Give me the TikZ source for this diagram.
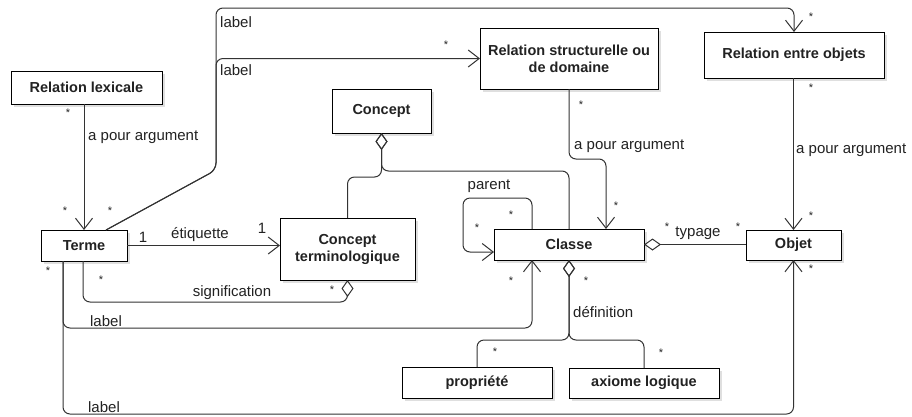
\documentclass[tikz,border=0pt]{standalone}
\usepackage{fontspec}
\setmainfont{Liberation Sans}
\usetikzlibrary{arrows.meta,shadows}
\definecolor{ln}{HTML}{333333}
\definecolor{tx}{HTML}{222222}
\begin{document}
\begin{tikzpicture}[x=1pt,y=-1pt,
  box/.style={draw=black, fill=white, line width=1pt, inner sep=0pt, outer sep=0pt, align=center,
    font=\fontsize{14.5}{17}\bfseries\selectfont, text=tx,
    drop shadow={shadow xshift=3pt,shadow yshift=-3pt,opacity=0.25}},
  conn/.style={draw=ln, line width=1pt, rounded corners=7pt},
  nav/.style={conn, -{Straight Barb[length=11pt,width=17pt,line width=1pt]}},
  agg/.style={conn, {Diamond[open,length=17pt,width=12pt,line width=1pt]}-},
  lbl/.style={font=\fontsize{15}{17}\selectfont, text=tx, inner sep=0pt},
  star/.style={font=\fontsize{11}{11}\selectfont, text=tx, inner sep=0pt, yshift=-2pt}]
\useasboundingbox[fill=white] (0,0) rectangle (912,416);

% boxes
\node[box, minimum width=151pt, minimum height=33pt] (rlex) at (86.5,87.5) {Relation lexicale};
\node[box, minimum width=86pt, minimum height=31pt] (terme) at (84,245.5) {Terme};
\node[box, minimum width=135pt, minimum height=62pt] (ct) at (347.5,249) {Concept\\terminologique};
\node[box, minimum width=99pt, minimum height=44pt] (concept) at (381.5,111) {Concept};
\node[box, minimum width=178pt, minimum height=61pt] (rs) at (569,58.5) {Relation structurelle ou\\de domaine};
\node[box, minimum width=180pt, minimum height=46pt] (reo) at (794,55) {Relation entre objets};
\node[box, minimum width=150pt, minimum height=31pt] (classe) at (569,244.5) {Classe};
\node[box, minimum width=95pt, minimum height=30pt] (objet) at (793.5,245) {Objet};
\node[box, minimum width=150pt, minimum height=31pt] (prop) at (477,382.5) {propriété};
\node[box, minimum width=150pt, minimum height=30pt] (axiome) at (644,383) {axiome logique};

% connectors
\draw[nav] (rlex.south -| terme.north) -- (terme.north);
\coordinate (tk) at (216,170);
\draw[nav] ([xshift=22pt]terme.north) -- (tk) -- (216,8) -| (reo.north);
\draw[nav] ([xshift=22pt]terme.north) -- (tk) -- (tk |- rs.west) -- (rs.west);
\draw[nav] (terme.east) -- (terme.east -| ct.west);
\draw[agg] (concept.south) -- ++(0,44) -| (ct.north);
\draw[agg] (concept.south) -- ++(0,38) -| (classe.north);
\draw[nav] ([xshift=-37pt]classe.north) |- (463,198) |- ([yshift=-7.5pt]classe.west);
\draw[nav] (rs.south) |- ([xshift=37pt,yshift=70pt]classe.north) -- ([xshift=37pt]classe.north);
\draw[nav] (reo.south -| objet.north) -- (objet.north);
\draw[agg] (classe.east) -- (classe.east -| objet.west);
\draw[agg] (ct.south) |- ([xshift=-1pt,yshift=-41pt]terme.south) -- ([xshift=-1pt]terme.south);
\draw[nav] ([xshift=-21pt]terme.south) |- ([xshift=-37pt,yshift=-68pt]classe.south) -- ([xshift=-37pt]classe.south);
\draw[nav] ([xshift=-21pt]terme.south) |- ([yshift=-154pt]objet.south) -- (objet.south);
\draw[agg] (classe.south) -- ++(0,80) -| (prop.north);
\draw[agg] (classe.south) -- ++(0,80) -| (axiome.north);

% labels
\node[lbl, anchor=west] (l1) at (88,137) {a pour argument};
\node[lbl, anchor=west] (l2) at (220,22) {label};
\node[lbl, anchor=west] (l3) at (220,70) {label};
\node[lbl, anchor=west] (l4) at (574,146) {a pour argument};
\node[lbl, anchor=west] (l5) at (796,150) {a pour argument};
\node[lbl] (l6) at (200,235) {étiquette};
\node[lbl] (l7) at (143,237) {1};
\node[lbl] (l8) at (262,228) {1};
\node[lbl] (l9) at (489,186) {parent};
\node[lbl] (l10) at (698,233) {typage};
\node[lbl] (l11) at (232,293) {signification};
\node[lbl] (l12) at (106,321) {label};
\node[lbl] (l13) at (104,407) {label};
\node[lbl, anchor=west] (l14) at (573,312) {définition};

% multiplicities
\node[star] (s1) at (68,111) {*};
\node[star] (s2) at (65,209) {*};
\node[star] (s3) at (110,209) {*};
\node[star] (s4) at (446,43) {*};
\node[star] (s5) at (811,15) {*};
\node[star] (s6) at (581,103) {*};
\node[star] (s7) at (616,204) {*};
\node[star] (s8) at (811,86) {*};
\node[star] (s9) at (811,214) {*};
\node[star] (s10) at (511,213) {*};
\node[star] (s11) at (477,226) {*};
\node[star] (s12) at (667,225) {*};
\node[star] (s13) at (738,225) {*};
\node[star] (s14) at (101,278) {*};
\node[star] (s15) at (332,288) {*};
\node[star] (s16) at (48,269) {*};
\node[star] (s17) at (511,279) {*};
\node[star] (s18) at (811,267) {*};
\node[star] (s19) at (586,279) {*};
\node[star] (s20) at (495,350) {*};
\node[star] (s21) at (661,351) {*};
\end{tikzpicture}
\end{document}
